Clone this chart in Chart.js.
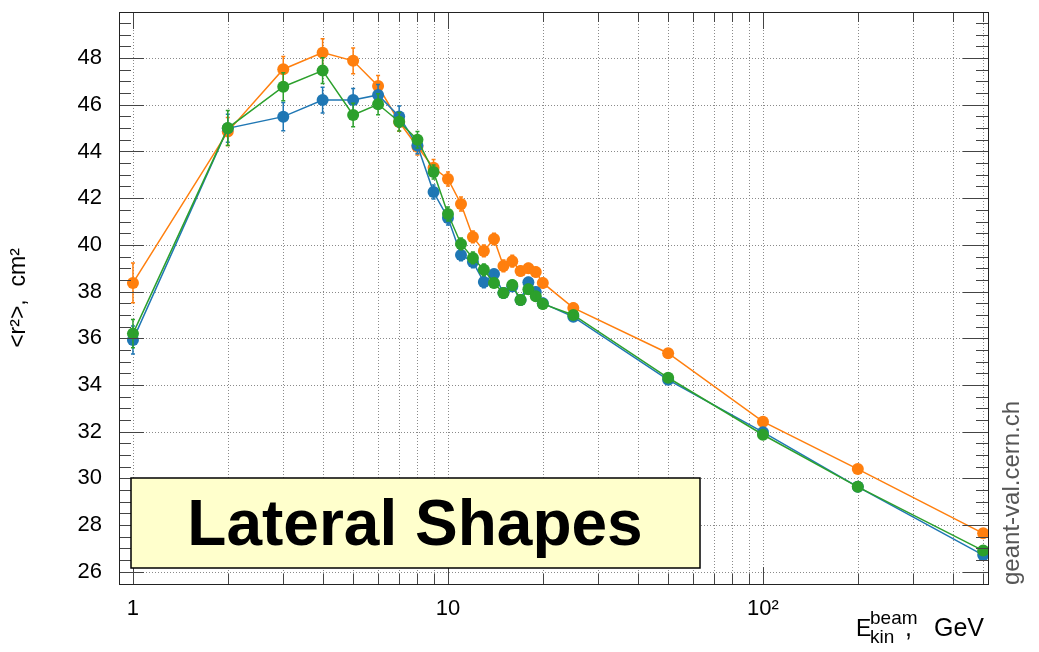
<!DOCTYPE html>
<html>
<head>
<meta charset="utf-8">
<script src="https://cdn.jsdelivr.net/npm/chart.js@4/dist/chart.umd.min.js"></script>
<style>
  html, body { margin: 0; padding: 0; background: #fff; }
  #wrap { width: 1039px; height: 652px; }
</style>
</head>
<body>
<div id="wrap"><canvas id="chartLat" width="1039" height="652"></canvas></div>
<script>
// données (E beam en GeV, <r2> en cm2)
const energies = [1, 2, 3, 4, 5, 6, 7, 8, 9, 10, 11, 12, 13, 14, 15, 16, 17, 18, 19, 20, 25, 50, 100, 200, 500];

const valsOrange = [38.37, 44.85, 47.52, 48.23, 47.88, 46.8, 45.26, 44.2, 43.3, 42.82, 41.75, 40.34, 39.74, 40.25, 39.1, 39.3, 38.88, 39.0, 38.84, 38.37, 37.3, 35.36, 32.43, 30.4, 27.65];
const errOrange  = [0.85, 0.6, 0.55, 0.6, 0.55, 0.45, 0.4, 0.35, 0.35, 0.3, 0.3, 0.25, 0.25, 0.25, 0.25, 0.25, 0.2, 0.2, 0.2, 0.2, 0.2, 0.1, 0.08, 0.07, 0.05];

const valsBlue = [35.93, 44.99, 45.49, 46.2, 46.2, 46.42, 45.5, 44.25, 42.26, 41.15, 39.57, 39.27, 38.41, 38.75, 37.94, 38.22, 37.64, 38.4, 37.98, 37.5, 36.92, 34.22, 31.98, 29.64, 26.72];
const errBlue  = [0.6, 0.6, 0.6, 0.55, 0.5, 0.45, 0.45, 0.35, 0.3, 0.3, 0.25, 0.25, 0.25, 0.2, 0.2, 0.2, 0.2, 0.2, 0.2, 0.2, 0.15, 0.1, 0.08, 0.07, 0.05];

const valsGreen = [36.2, 45.0, 46.77, 47.46, 45.56, 46.02, 45.27, 44.5, 43.12, 41.32, 40.04, 39.44, 38.93, 38.37, 37.94, 38.28, 37.64, 38.1, 37.8, 37.47, 37.0, 34.31, 31.87, 29.64, 26.91];
const errGreen  = [0.6, 0.75, 0.6, 0.55, 0.5, 0.45, 0.4, 0.35, 0.3, 0.3, 0.25, 0.25, 0.25, 0.2, 0.2, 0.2, 0.2, 0.2, 0.2, 0.2, 0.15, 0.1, 0.08, 0.07, 0.05];

const yTicks = [26, 28, 30, 32, 34, 36, 38, 40, 42, 44, 46, 48];
const xTicks = [1, 10, 100];
const xGrid  = [1, 2, 3, 4, 5, 6, 7, 8, 9, 10, 20, 30, 40, 50, 60, 70, 80, 90, 100, 200, 300, 400, 500];

const FONT = "'Liberation Sans', Arial, sans-serif";

function mkSet(vals, errs, color) {
    return {
        data: energies.map((e, i) => ({ x: e, y: vals[i] })),
        errs: errs,
        borderColor: color,
        backgroundColor: color,
        borderWidth: 1.5,
        pointRadius: 6,
        pointBorderWidth: 0,
        showLine: true,
        tension: 0,
    };
}

//barres d'erreur, via les echelles du graphique//
const errorBars = {
    id: 'errorBars',
    afterDatasetDraw(chart, args) {
        const ds = chart.data.datasets[args.index];
        const ys = chart.scales.y;
        const ctx = chart.ctx;
        ctx.save();
        ctx.strokeStyle = ds.borderColor;
        ctx.lineWidth = 1.5;
        args.meta.data.forEach((pt, i) => {
            const v = ds.data[i].y, e = ds.errs[i];
            const y1 = ys.getPixelForValue(v - e), y2 = ys.getPixelForValue(v + e);
            ctx.beginPath();
            ctx.moveTo(pt.x, y1); ctx.lineTo(pt.x, y2);
            ctx.moveTo(pt.x - 2, y1); ctx.lineTo(pt.x + 2, y1);
            ctx.moveTo(pt.x - 2, y2); ctx.lineTo(pt.x + 2, y2);
            ctx.stroke();
        });
        ctx.restore();
    }
};

//cadre style ROOT : grille pointillée, ticks sur les 4 cotés, encadré titre//
const rootFrame = {
    id: 'rootFrame',
    beforeDatasetsDraw(chart) {
        const { ctx, chartArea: a, scales: { x, y } } = chart;
        ctx.save();
        ctx.strokeStyle = '#8a8a8a';
        ctx.lineWidth = 1;
        ctx.setLineDash([1, 2]);
        xGrid.forEach(v => {
            const px = Math.round(x.getPixelForValue(v)) + 0.5;
            ctx.beginPath(); ctx.moveTo(px, a.top); ctx.lineTo(px, a.bottom); ctx.stroke();
        });
        yTicks.forEach(v => {
            const py = Math.round(y.getPixelForValue(v)) + 0.5;
            ctx.beginPath(); ctx.moveTo(a.left, py); ctx.lineTo(a.right, py); ctx.stroke();
        });
        ctx.restore();
    },
    afterDraw(chart) {
        const { ctx, chartArea: a, scales: { x, y } } = chart;
        ctx.save();
        ctx.strokeStyle = '#444';
        ctx.lineWidth = 1;
        // ticks y
        for (let v = 25.5; v <= 50; v += 0.5) {
            const py = Math.round(y.getPixelForValue(v)) + 0.5;
            if (py < a.top || py > a.bottom) continue;
            const len = (Math.abs(v % 2) < 1e-6) ? 25 : 12;
            ctx.beginPath();
            ctx.moveTo(a.left, py); ctx.lineTo(a.left + len, py);
            ctx.moveTo(a.right, py); ctx.lineTo(a.right - len, py);
            ctx.stroke();
        }
        // ticks x
        xGrid.forEach(v => {
            const px = Math.round(x.getPixelForValue(v)) + 0.5;
            const len = xTicks.includes(v) ? 17 : 10;
            ctx.beginPath();
            ctx.moveTo(px, a.top); ctx.lineTo(px, a.top + len);
            ctx.moveTo(px, a.bottom); ctx.lineTo(px, a.bottom - len);
            ctx.stroke();
        });
        ctx.strokeStyle = '#222';
        ctx.strokeRect(Math.round(a.left) + 0.5, Math.round(a.top) + 0.5, Math.round(a.right - a.left), Math.round(a.bottom - a.top));

        // encadré titre
        ctx.fillStyle = '#ffffcc';
        ctx.fillRect(131, 478, 569, 90);
        ctx.strokeStyle = '#000';
        ctx.lineWidth = 1.5;
        ctx.strokeRect(131, 478, 569, 90);
        ctx.fillStyle = '#000';
        ctx.font = "bold 64px " + FONT;
        ctx.textAlign = 'center';
        ctx.textBaseline = 'alphabetic';
        ctx.fillText('Lateral Shapes', 415, 545);

        // titre axe x : E_kin^beam, GeV
        ctx.textAlign = 'left';
        ctx.font = "23px " + FONT;
        ctx.fillText('E', 856, 636);
        ctx.font = "19px " + FONT;
        ctx.fillText('beam', 870, 624);
        ctx.fillText('kin', 870, 643);
        ctx.font = "25px " + FONT;
        ctx.fillText(',', 905, 636);
        ctx.fillText('GeV', 934, 636);

        // signature
        ctx.save();
        ctx.translate(1019, 585);
        ctx.rotate(-Math.PI / 2);
        ctx.fillStyle = '#555';
        ctx.font = "24px " + FONT;
        ctx.fillText('geant-val.cern.ch', 0, 0);
        ctx.restore();
        ctx.restore();
    }
};

new Chart(document.getElementById('chartLat').getContext('2d'), {
    type: 'scatter',
    data: {
        // vert au dessus, puis bleu, puis orange
        datasets: [
            mkSet(valsGreen, errGreen, '#2ca02c'),
            mkSet(valsBlue, errBlue, '#1f77b4'),
            mkSet(valsOrange, errOrange, '#ff7f0e'),
        ]
    },
    options: {
        responsive: false,
        animation: false,
        devicePixelRatio: 1,
        layout: { padding: { top: 12, right: 51, left: 0, bottom: 0 } },
        plugins: { legend: { display: false }, tooltip: { enabled: false } },
        scales: {
            x: {
                type: 'logarithmic',
                min: 0.903,
                max: 518,
                afterFit: s => { s.height = 68; s.paddingLeft = 0; s.paddingRight = 0; },
                afterBuildTicks: s => { s.ticks = xTicks.map(v => ({ value: v })); },
                grid: { display: false, drawTicks: false },
                border: { display: false },
                ticks: {
                    autoSkip: false,
                    maxRotation: 0,
                    color: '#000',
                    font: { family: FONT, size: 22 },
                    padding: 12,
                    callback: v => (v === 100 ? '10\u00B2' : String(v)),
                }
            },
            y: {
                min: 25.48,
                max: 49.97,
                afterFit: s => { s.width = 119; s.paddingTop = 0; s.paddingBottom = 0; },
                afterBuildTicks: s => { s.ticks = yTicks.map(v => ({ value: v })); },
                grid: { display: false, drawTicks: false },
                border: { display: false },
                ticks: {
                    color: '#000',
                    font: { family: FONT, size: 22 },
                    padding: 17,
                },
                title: {
                    display: true,
                    text: '<r\u00B2>,  cm\u00B2',
                    color: '#000',
                    font: { family: FONT, size: 23 },
                    padding: { top: 5, bottom: 0 },
                }
            }
        }
    },
    plugins: [errorBars, rootFrame]
});
</script>
</body>
</html>
